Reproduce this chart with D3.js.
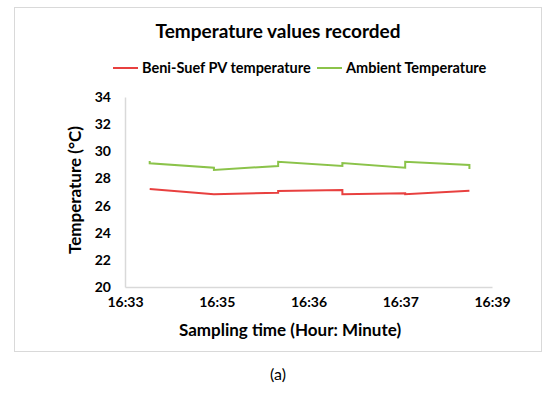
<!DOCTYPE html>
<html>
<head>
<meta charset="utf-8">
<script src="https://cdn.jsdelivr.net/npm/d3@7"></script>
<style>
  body { margin: 0; background: #fff; }
  text { font-family: Lato, sans-serif; fill: #000; }
</style>
</head>
<body>
<div id="chart"></div>
<script>
// sampling time in minutes after 16:00 (repeated times give the vertical steps)
const pvTimes = [33.75, 34.66, 35.57, 35.57, 36.48, 36.48, 37.37, 37.37, 38.28];
const pvValues = [27.22, 26.83, 26.95, 27.07, 27.15, 26.83, 26.90, 26.84, 27.10];

const ambTimes = [33.75, 33.75, 34.66, 34.66, 35.57, 35.57, 36.48, 36.48, 37.37, 37.37, 38.28, 38.28];
const ambValues = [29.28, 29.11, 28.79, 28.62, 28.92, 29.23, 28.92, 29.14, 28.79, 29.23, 28.99, 28.70];

const xTickValues = [33.4, 34.7, 36.0, 37.3, 38.6];
const xTickLabels = ["16:33", "16:35", "16:36", "16:37", "16:39"];
const yTicks = [20, 22, 24, 26, 28, 30, 32, 34];

const series = [
  { name: "Beni-Suef PV temperature", color: "#e8403f", times: pvTimes, values: pvValues },
  { name: "Ambient Temperature", color: "#8bc34a", times: ambTimes, values: ambValues }
];

const width = 550;
const height = 394;
const margin = { top: 97, right: 58, bottom: 107, left: 125 };

const svg = d3.select("#chart")
  .append("svg")
  .attr("width", width)
  .attr("height", height);

// chart area frame
svg.append("rect")
  .attr("x", 14.5).attr("y", 7.5)
  .attr("width", 527).attr("height", 344)
  .attr("fill", "none")
  .attr("stroke", "#d9d9d9");

const x = d3.scaleLinear()
  .domain([xTickValues[0], xTickValues[xTickValues.length - 1]])
  .range([margin.left, width - margin.right]);

const y = d3.scaleLinear()
  .domain([20, 34])
  .range([height - margin.bottom, margin.top]);

function yAxis(g) {
  g.attr("transform", `translate(${margin.left},0)`)
    .call(d3.axisLeft(y).tickValues(yTicks).tickSize(0).tickPadding(14).tickSizeOuter(0))
    .call(g => g.select(".domain").attr("stroke", "#d9d9d9").attr("stroke-width", 1.5))
    .selectAll("text")
      .attr("font-family", "Lato")
      .attr("font-weight", "bold")
      .attr("font-size", "14px");
}

function xAxis(g) {
  g.attr("transform", `translate(0,${height - margin.bottom})`)
    .call(d3.axisBottom(x).tickValues(xTickValues).tickSize(0).tickPadding(10).tickSizeOuter(0)
      .tickFormat((d, i) => xTickLabels[i]))
    .call(g => g.select(".domain").attr("stroke", "#d9d9d9").attr("stroke-width", 1.5))
    .selectAll("text")
      .attr("font-family", "Lato")
      .attr("font-weight", "bold")
      .attr("font-size", "14px");
}

svg.append("g").call(yAxis);
svg.append("g").call(xAxis);

const line = d3.line()
  .x(d => x(d[0]))
  .y(d => y(d[1]));

svg.append("g")
  .selectAll("path")
  .data(series)
  .join("path")
    .attr("fill", "none")
    .attr("stroke", d => d.color)
    .attr("stroke-width", 2)
    .attr("d", d => line(d.times.map((t, i) => [t, d.values[i]])));

// title
svg.append("text")
  .attr("x", 278).attr("y", 38)
  .attr("text-anchor", "middle")
  .attr("font-weight", "bold")
  .attr("font-size", "19px")
  .text("Temperature values recorded");

// legend
const legendX = [113, 317];
const legend = svg.append("g")
  .selectAll("g")
  .data(series)
  .join("g")
    .attr("transform", (d, i) => `translate(${legendX[i]},68)`);
legend.append("line")
  .attr("x1", 0).attr("x2", 25)
  .attr("stroke", d => d.color)
  .attr("stroke-width", 2);
legend.append("text")
  .attr("x", 29).attr("y", 5)
  .attr("font-weight", "bold")
  .attr("font-size", "14.5px")
  .text(d => d.name);

// axis titles
svg.append("text")
  .attr("transform", "translate(81,190) rotate(-90)")
  .attr("text-anchor", "middle")
  .attr("font-weight", "bold")
  .attr("font-size", "17px")
  .text("Temperature (°C)");

svg.append("text")
  .attr("x", 290).attr("y", 336)
  .attr("text-anchor", "middle")
  .attr("font-weight", "bold")
  .attr("font-size", "17px")
  .text("Sampling time (Hour: Minute)");

svg.append("text")
  .attr("x", 278).attr("y", 380)
  .attr("text-anchor", "middle")
  .attr("font-family", "DejaVu Serif")
  .attr("font-size", "16px")
  .text("(a)");
</script>
</body>
</html>
